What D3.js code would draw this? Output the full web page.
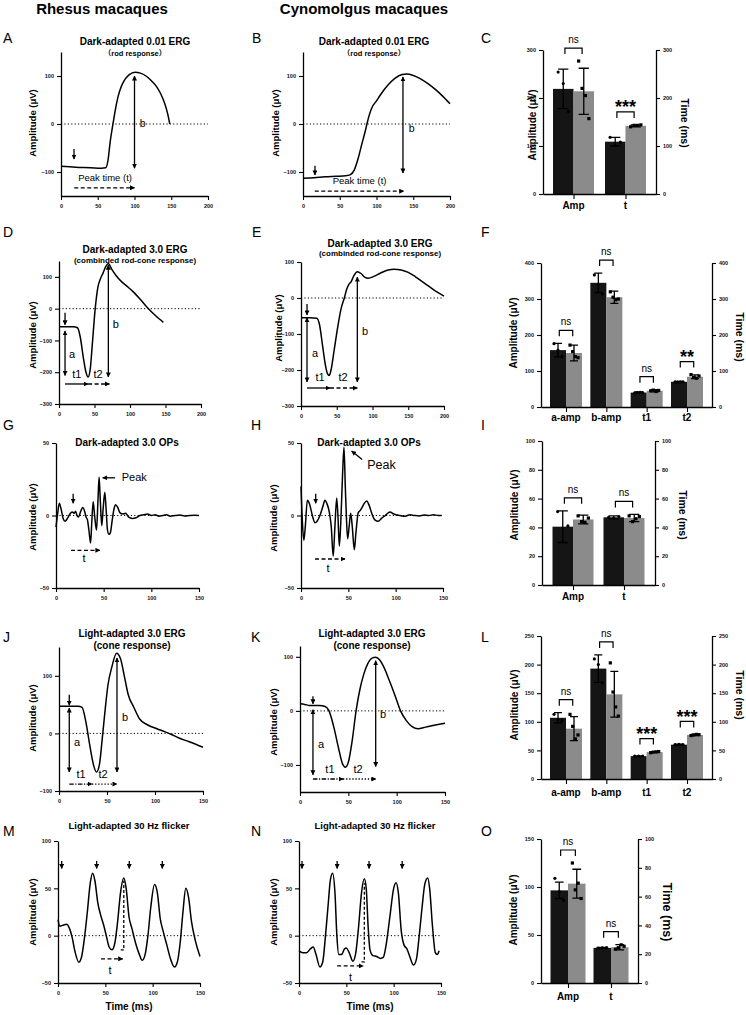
<!DOCTYPE html>
<html>
<head>
<meta charset="utf-8">
<script src="https://cdn.jsdelivr.net/npm/d3@7"></script>
<style>
  body { margin: 0; background: #fff; }
  svg { display: block; }
</style>
</head>
<body>
<svg id="fig" width="746" height="1015"></svg>
<script>
// ---------- data: ERG traces, [time ms, amplitude uV] ----------
const rodRhesus = [[0,-88],[20,-90],[40,-91],[55,-92],[61,-91],[64,-75],[67,-36],[70.7,0],[74,30],[78,59],[82,78],[87,93],[93,103],[100.7,108],[108,106],[116.6,99],[123,90],[130,78],[136,62],[141,43],[145,22],[148,0]];
const rodCyno = [[0,-113],[15,-112],[30,-110],[45,-109],[58,-108],[64,-106],[70,-95],[75,-72],[80,-42],[85,-13],[87,0],[90,18],[95,38],[99,46],[105,60],[115,80],[125,95],[135,103],[141,104],[150,101],[160,94],[170,84],[180,72],[190,58],[200,42]];
const mixedRhesus = [[0,-57],[10,-57],[20,-57],[26,-60],[30,-90],[34,-150],[38,-200],[41,-215],[44,-190],[47,-110],[51,0],[55,70],[58,92],[62,112],[66,133],[69.5,142],[74,125],[80,105],[88,85],[96,70],[105,52],[115,28],[125,2],[135,-20],[147,-43]];
const mixedCyno = [[0,-55],[12,-55],[22,-56],[26,-75],[30,-130],[34,-185],[37,-210],[39.5,-215],[42,-200],[46,-150],[51,-85],[56,-30],[60.6,0],[64,25],[67,38],[70,45],[74,62],[78.8,73],[84,68],[89,58],[94,55],[102,60],[112,70],[122,78],[130,80],[140,78],[150,71],[160,59],[170,45],[180,31],[190,17],[200,5]];
const opsRhesus = [[0,-8],[1.5,0],[3.5,8.5],[5.5,4],[7.5,-2],[9.5,-4],[12,-2],[14.5,1],[17,2.5],[19,1.5],[20.5,3],[22,0],[23.5,-1],[26,3],[28,5.5],[30,3],[31.5,-1],[33,-3],[34.5,-10],[36.3,-19],[37.5,-5],[39,9.5],[40.5,0],[42.5,-10],[44,10],[45.2,26.5],[46.5,10],[48,-7],[49.5,5],[51.2,16],[52.5,5],[54,-10],[55.5,-13],[57,-12],[59,-3],[61,5],[62.5,7.5],[64.5,6],[67,2],[70,1],[73,1.5],[76,-1],[80,-2],[84,-1.5],[88,0],[92,0.5],[96,1],[100,0],[104,0.5],[108,-0.5],[112,0],[116,0.5],[120,-0.5],[125,0],[130,0.3],[135,-0.3],[140,0],[145,0.2],[150,0]];
const opsCyno = [[0,20],[1.5,-5],[3,-17],[4.5,-8],[6.7,10.5],[9,8],[12,0],[14.8,-5],[17,-4],[20,0],[23,6],[25.3,10.5],[27.5,8],[29,5],[30.5,0],[32,-8],[34,-28],[35.8,-8],[37.7,12],[39,0],[40.5,-21],[42,-5],[44,30],[45.4,47],[46.8,20],[48.2,-5],[49.3,-16],[50.8,-8],[52.5,1.6],[54.2,-8],[56.3,-23.6],[58,-12],[60.5,2],[62,3],[64,5],[66.5,8],[69.4,10],[72,7],[75,1],[78,-3],[81.6,-4],[85,-2],[89,0],[94,2.5],[98,1],[104.5,0],[110,-0.5],[115,0.5],[120,0],[125,-0.3],[130,0.3],[135,0],[140,0.5],[145,0],[148.6,0]];
const coneRhesus = [[0,47],[10,47],[20,47],[24,45],[28,20],[32,-20],[36,-55],[39,-67],[42,-55],[45,-10],[48,40],[51,84],[55,115],[60,139],[64,130],[68,100],[72,68],[78,45],[84,25],[92,15],[102,8],[110,3],[116,-1],[125,-8],[135,-14],[150,-24]];
const coneCyno = [[0,13],[5,12],[10,10],[20,10],[26,8],[30,0],[35,-30],[40,-70],[44,-98],[47,-104],[50,-95],[54,-55],[58,0],[62,40],[66,68],[70,87],[75,98],[78,99],[82,95],[87,80],[92,58],[98,30],[104,0],[110,-18],[116,-29],[122,-33],[130,-30],[140,-26],[150,-23]];
const flickerRhesus = [[0,17],[2,10],[5,11],[9,12],[12,8],[15,-2],[18,-17],[22,-28],[25,-22],[28,-2],[31,25],[34,55],[36.5,66],[39,58],[42,35],[45,22],[48,12],[51,0],[54,-12],[57,-15],[60,-8],[63,15],[66,45],[69.5,61],[72,50],[75,20],[78,8],[82,-8],[86,-20],[89,-26],[92,-20],[95,0],[98,30],[102,54],[105,45],[108,18],[111,5],[115,-10],[119,-25],[123,-33],[126,-28],[129,-8],[132,25],[135,50],[138,40],[141,15],[145,-5],[150,-22]];
const flickerCyno = [[0,-16],[4,-18],[8,-18],[12,-14],[15,-12],[18,-20],[22,-33],[25,-28],[28,0],[31,35],[33,58],[35.5,66],[38,45],[40,0],[42,-20],[45,-20],[48,-14],[50,-13],[53,-18],[57,-27],[60,-18],[63,10],[66,45],[69,60],[71,50],[73,10],[75,-15],[78,-21],[82,-22],[86,-24],[89,-23],[92,-10],[96,20],[100,50],[102.5,56],[105,45],[108,5],[111,-10],[114,-14],[117,-22],[121,-31],[124,-25],[127,0],[130,30],[133,55],[136,61],[138,50],[141,10],[144,-18],[146,-20],[148,-16]];

// flash times (ms) marked by arrows in the flicker traces
const flashRhesus = [3.9, 40.8, 75.3, 110.2];
const flashCyno = [3.2, 40.3, 74, 109];

// tick labels
const time200 = [0, 50, 100, 150, 200];
const time150 = [0, 50, 100, 150];

// ---------- data: bar charts (rhesus = black, cynomolgus = gray) ----------
const rodGroups = ["Amp", "t"];
const rodRhesusMean = [219, 109], rodRhesusSd = [41, 9];
const rodCynoMean = [214, 142], rodCynoSd = [48, 2];
const rodRhesusDots = [[254, 230, 172], [118, 101, 108]];
const rodCynoDots = [[277, 220, 205, 157], [140, 143, 143, 144]];
const rodSig = ["ns", "***"];

const mixedGroups = ["a-amp", "b-amp", "t1", "t2"];
const mixedRhesusMean = [158, 345, 40, 70], mixedRhesusSd = [19, 27, 2, 1];
const mixedCynoMean = [150, 305, 45, 84], mixedCynoSd = [22, 17, 3, 5];
const mixedRhesusDots = [[176, 158, 140], [367, 339, 314], [39, 40, 41, 40], [70, 69, 70, 70]];
const mixedCynoDots = [[172, 154, 140, 137], [320, 305, 298, 300], [45, 47, 43, 46], [90, 82, 80, 86]];
const mixedSig = ["ns", "ns", "ns", "**"];

const opsGroups = ["Amp", "t"];
const opsRhesusMean = [40.5, 47], opsRhesusSd = [11, 1];
const opsCynoMean = [45.5, 46.5], opsCynoSd = [3, 2.5];
const opsRhesusDots = [[51, 30, 41], [47, 46.5, 47.5]];
const opsCynoDots = [[48, 44, 43.5, 46.5], [48, 44, 46, 47.5]];
const opsSig = ["ns", "ns"];

const coneGroups = ["a-amp", "b-amp", "t1", "t2"];
const coneRhesusMean = [107, 193, 40, 60], coneRhesusSd = [9, 24, 0.5, 0.8];
const coneCynoMean = [88, 148, 47, 77], coneCynoSd = [21, 40, 1, 1];
const coneRhesusDots = [[113, 104, 102], [210, 200, 168], [40, 40, 40], [60, 60.5, 60]];
const coneCynoDots = [[113, 92, 70, 77], [203, 152, 126, 110], [46, 47, 47.5, 48], [76, 77, 78, 77.5]];
const coneSig = ["ns", "ns", "***", "***"];

const flickerGroups = ["Amp", "t"];
const flickerRhesusMean = [96.5, 24.4], flickerRhesusSd = [8.5, 0.3];
const flickerCynoMean = [103.5, 24.8], flickerCynoSd = [15, 1.8];
const flickerRhesusDots = [[109, 95, 86], [24.3, 24.4, 24.5]];
const flickerCynoDots = [[125, 97, 104, 88], [23.5, 24.5, 26.5, 25.5]];
const flickerSig = ["ns", "ns"];

// ---------- drawing ----------
const FONT = '"Liberation Sans", Arial, Helvetica, "Noto Sans CJK SC", sans-serif';
const BLACK = "#151515";
const GRAY = "#8b8b8b";
const DASH = { solid: null, dash: "4,2.5", dashdot: "4.5,1.5,1.2,1.5", dot: "1.3,1.8", dline: "3,2" };

const svg = d3.select("#fig").style("font-family", FONT);

svg.append("defs").append("marker")
  .attr("id", "head")
  .attr("viewBox", "0 0 10 10")
  .attr("refX", 9).attr("refY", 5)
  .attr("markerWidth", 5).attr("markerHeight", 5)
  .attr("markerUnits", "userSpaceOnUse")
  .attr("orient", "auto-start-reverse")
  .append("path").attr("d", "M0,0L10,5L0,10z").attr("fill", "#000");

function text(g, x, y, str, size, opts) {
  opts = opts || {};
  return g.append("text")
    .attr("x", x).attr("y", y)
    .attr("text-anchor", opts.anchor || "middle")
    .attr("font-size", size)
    .attr("font-weight", opts.bold ? "bold" : "normal")
    .attr("fill", "#000")
    .text(str);
}

function vlabel(x, y, str, size, angle) {
  svg.append("text")
    .attr("transform", `translate(${x},${y}) rotate(${angle})`)
    .attr("text-anchor", "middle")
    .attr("dominant-baseline", "central")
    .attr("font-size", size)
    .attr("font-weight", "bold")
    .text(str);
}

function styleAxis(sel) {
  sel.attr("font-family", FONT);
  sel.select(".domain").attr("stroke", "#000").attr("stroke-width", 1.3);
  sel.selectAll(".tick line").attr("stroke", "#000").attr("stroke-width", 1.1);
  sel.selectAll(".tick text").attr("fill", "#111").attr("font-size", 5.5).attr("font-weight", "bold");
}

function tracePanel(p) {
  const g = svg.append("g");
  const x = d3.scaleLinear().domain(p.xDomain).range([p.frame.x0, p.frame.x1]);
  const y = d3.scaleLinear().domain(p.yDomain).range([p.frame.y1, p.frame.y0]);

  g.append("line")
    .attr("x1", x(p.xDomain[0])).attr("x2", x(p.xDomain[1]))
    .attr("y1", y(0)).attr("y2", y(0))
    .attr("stroke", "#000").attr("stroke-width", 1)
    .attr("stroke-dasharray", "1.2,2.2");

  g.append("path")
    .datum(p.data)
    .attr("fill", "none")
    .attr("stroke", "#000")
    .attr("stroke-width", 1.5)
    .attr("stroke-linejoin", "round")
    .attr("d", d3.line().x(d => x(d[0])).y(d => y(d[1])).curve(d3.curveMonotoneX));

  const ya = g.append("g").attr("transform", `translate(${p.frame.x0},0)`)
    .call(d3.axisLeft(y).tickValues(p.yTicks).tickSize(4).tickSizeOuter(0).tickPadding(3));
  const xa = g.append("g").attr("transform", `translate(0,${p.frame.y1})`)
    .call(d3.axisBottom(x).tickValues(p.xTicks).tickSize(4).tickSizeOuter(0).tickPadding(4));
  styleAxis(ya);
  styleAxis(xa);

  (p.ann || []).forEach(a => {
    if (a.type === "arrow") {
      g.append("line")
        .attr("x1", x(a.from[0])).attr("y1", y(a.from[1]))
        .attr("x2", x(a.to[0])).attr("y2", y(a.to[1]))
        .attr("stroke", "#000").attr("stroke-width", 1.3)
        .attr("stroke-dasharray", DASH[a.style || "solid"])
        .attr("marker-end", "url(#head)")
        .attr("marker-start", a.both ? "url(#head)" : null);
    } else if (a.type === "path") {
      g.append("path")
        .attr("d", d3.line()(a.pts.map(d => [x(d[0]), y(d[1])])))
        .attr("fill", "none").attr("stroke", "#000").attr("stroke-width", 1.3)
        .attr("stroke-dasharray", DASH[a.style || "solid"]);
    } else if (a.type === "text") {
      text(g, x(a.at[0]), y(a.at[1]), a.text, a.size || 11, { anchor: a.anchor });
    }
  });

  text(svg, p.title[1], p.title[2], p.title[0], p.title[3] || 10, { bold: true });
  if (p.sub) text(svg, p.sub[1], p.sub[2], p.sub[0], p.sub[3], { bold: true });
  vlabel(p.ylab[0], p.ylab[1], "Amplitude (\u03bcV)", 9.5, -90);
  if (p.xlab) text(svg, p.xlab[0], p.xlab[1], "Time (ms)", 10, { bold: true });
}

function barPanel(p) {
  const g = svg.append("g");
  const x = d3.scalePoint().domain(p.groups).range([p.x0, p.x1]).padding(p.pad);
  const yl = d3.scaleLinear().domain(p.yDomain).range([p.y1, p.y0]);
  const yr = d3.scaleLinear().domain(p.rDomain).range([p.y1, p.y0]);
  const scaleFor = i => (p.rightIdx.includes(i) ? yr : yl);
  const series = [
    { mean: p.rh.mean, sd: p.rh.sd, dots: p.rh.dots, fill: BLACK, side: -1, shape: "circle" },
    { mean: p.cy.mean, sd: p.cy.sd, dots: p.cy.dots, fill: GRAY, side: 1, shape: "square" }
  ];

  p.groups.forEach((grp, i) => {
    const cx = x(grp);
    const s = scaleFor(i);
    series.forEach(sr => {
      g.append("rect")
        .attr("x", sr.side < 0 ? cx - p.bw : cx)
        .attr("y", s(sr.mean[i]))
        .attr("width", p.bw)
        .attr("height", s(0) - s(sr.mean[i]))
        .attr("fill", sr.fill);
    });
    series.forEach(sr => {
      const mx = cx + sr.side * p.bw / 2;
      const pts = sr.dots[i];
      pts.forEach((v, k) => {
        const off = pts.length > 1 ? (k / (pts.length - 1) - 0.5) * p.bw * 0.5 : 0;
        if (sr.shape === "circle") {
          g.append("circle").attr("cx", mx + off).attr("cy", s(v)).attr("r", 1.6).attr("fill", "#000");
        } else {
          g.append("rect").attr("x", mx + off - 1.6).attr("y", s(v) - 1.6)
            .attr("width", 3.2).attr("height", 3.2).attr("fill", "#000");
        }
      });
      const top = s(sr.mean[i] + sr.sd[i]);
      const bot = s(sr.mean[i] - sr.sd[i]);
      const cap = p.bw * 0.25;
      g.append("path")
        .attr("d", `M${mx},${top}V${bot}M${mx - cap},${top}H${mx + cap}M${mx - cap},${bot}H${mx + cap}`)
        .attr("stroke", "#000").attr("stroke-width", 1.3).attr("fill", "none");
    });

    const hi = d3.max(series, sr => Math.max(sr.mean[i] + sr.sd[i], d3.max(sr.dots[i])));
    const yLeg = s(hi) - 7;
    const yTop = yLeg - 6;
    const bx1 = cx - p.bw * 0.42;
    const bx2 = cx + p.bw * 0.42;
    g.append("path")
      .attr("d", `M${bx1},${yLeg}V${yTop}H${bx2}V${yLeg}`)
      .attr("stroke", "#000").attr("stroke-width", 1.2).attr("fill", "none");
    const sig = p.sig[i];
    if (sig === "ns") {
      text(g, cx, yTop - 5, sig, 10);
    } else {
      text(g, cx, yTop + 1.5, sig, 18, { bold: true });
    }
    text(g, cx, p.xLabelY, grp, 10, { bold: true });
  });

  const la = g.append("g").attr("transform", `translate(${p.x0},0)`)
    .call(d3.axisLeft(yl).tickValues(p.yTicks).tickSize(4).tickSizeOuter(0).tickPadding(3));
  const ra = g.append("g").attr("transform", `translate(${p.x1},0)`)
    .call(d3.axisRight(yr).tickValues(p.rTicks).tickSize(4).tickSizeOuter(0).tickPadding(3));
  const ba = g.append("g").attr("transform", `translate(0,${p.y1})`)
    .call(d3.axisBottom(x).tickSize(5).tickSizeOuter(0).tickFormat(""));
  [la, ra, ba].forEach(styleAxis);
  ba.select(".domain").attr("stroke-width", 1.5);

  vlabel(p.leftLabel[0], p.leftLabel[1], "Amplitude (\u03bcV)", 10, -90);
  vlabel(p.rightLabel[0], p.rightLabel[1], "Time (ms)", p.rightLabel[2], 90);
}

// ---------- headers and panel letters ----------
text(svg, 102, 14, "Rhesus macaques", 15, { bold: true });
text(svg, 364, 14, "Cynomolgus macaques", 15, { bold: true });
[["A",3,43],["B",252,43],["C",481,43],["D",3,237],["E",252,237],["F",481,237],
 ["G",3,430],["H",251,430],["I",481,430],["J",3,642],["K",251,642],["L",481,642],
 ["M",3,836],["N",251,836],["O",481,836]].forEach(d => text(svg, d[1], d[2], d[0], 14, { anchor: "start" }));

// ---------- trace panels ----------
const flickArrows = ts => ts.map(t => ({ type: "arrow", from: [t, 79], to: [t, 71] }));

tracePanel({
  data: rodRhesus, frame: { x0: 61, x1: 208, y0: 52, y1: 196 },
  xDomain: [0, 200], yDomain: [-150, 150], xTicks: time200, yTicks: [-100, 0, 100],
  title: ["Dark-adapted 0.01 ERG", 135, 45], sub: ["\uff08rod response\uff09", 135, 56, 7.5], ylab: [32, 123],
  ann: [
    { type: "arrow", from: [17.7, -52], to: [17.7, -73] },
    { type: "arrow", from: [100, 100], to: [100, -92], both: true },
    { type: "text", at: [111, -6], text: "b", size: 10.5 },
    { type: "text", at: [60, -119], text: "Peak time (t)", size: 9.5 },
    { type: "arrow", from: [18, -133], to: [100, -133], style: "dash" }
  ]
});
tracePanel({
  data: rodCyno, frame: { x0: 303, x1: 450, y0: 52, y1: 196 },
  xDomain: [0, 200], yDomain: [-150, 150], xTicks: time200, yTicks: [-100, 0, 100],
  title: ["Dark-adapted 0.01 ERG", 374, 45], sub: ["\uff08rod response\uff09", 374, 56, 7.5], ylab: [275, 123],
  ann: [
    { type: "arrow", from: [16.3, -87], to: [16.3, -106] },
    { type: "arrow", from: [136, 98], to: [136, -102], both: true },
    { type: "text", at: [148, -16], text: "b", size: 10.5 },
    { type: "text", at: [77, -125], text: "Peak time (t)", size: 9.5 },
    { type: "arrow", from: [16, -140], to: [137, -140], style: "dash" }
  ]
});
tracePanel({
  data: mixedRhesus, frame: { x0: 59, x1: 201, y0: 261, y1: 404 },
  xDomain: [0, 200], yDomain: [-300, 150], xTicks: time200, yTicks: [-300, -200, -100, 0, 100],
  title: ["Dark-adapted 3.0 ERG", 135, 253], sub: ["(combinded rod-cone response)", 135, 263, 8], ylab: [32, 335],
  ann: [
    { type: "arrow", from: [8.5, -13], to: [8.5, -51] },
    { type: "arrow", from: [8.5, -70], to: [8.5, -210], both: true },
    { type: "text", at: [18.3, -155], text: "a" },
    { type: "arrow", from: [69.5, 137], to: [69.5, -215], both: true },
    { type: "text", at: [80, -62], text: "b" },
    { type: "text", at: [25, -218], text: "t1" },
    { type: "text", at: [55, -218], text: "t2" },
    { type: "arrow", from: [8.5, -237], to: [41, -237] },
    { type: "arrow", from: [41, -237], to: [71, -237], style: "dash" }
  ]
});
tracePanel({
  data: mixedCyno, frame: { x0: 301, x1: 444, y0: 262, y1: 406 },
  xDomain: [0, 200], yDomain: [-300, 100], xTicks: time200, yTicks: [-300, -200, -100, 0, 100],
  title: ["Dark-adapted 3.0 ERG", 380, 247], sub: ["(combinded rod-cone response)", 380, 256, 8], ylab: [278, 328],
  ann: [
    { type: "arrow", from: [8.4, -17], to: [8.4, -47] },
    { type: "arrow", from: [8.4, -55], to: [8.4, -233], both: true },
    { type: "text", at: [19.6, -164], text: "a" },
    { type: "arrow", from: [78.8, 58], to: [78.8, -233], both: true },
    { type: "text", at: [89.5, -103], text: "b" },
    { type: "text", at: [26.6, -230], text: "t1" },
    { type: "text", at: [58.7, -230], text: "t2" },
    { type: "arrow", from: [8.4, -250], to: [40.6, -250] },
    { type: "arrow", from: [40.6, -250], to: [78.8, -250], style: "dash" }
  ]
});
tracePanel({
  data: opsRhesus, frame: { x0: 56, x1: 199, y0: 443, y1: 588 },
  xDomain: [0, 150], yDomain: [-50, 50], xTicks: time150, yTicks: [-50, 0, 50],
  title: ["Dark-adapted 3.0 OPs", 127, 446], ylab: [32, 517],
  ann: [
    { type: "arrow", from: [18, 15], to: [18, 8.5] },
    { type: "text", at: [69, 24], text: "Peak", size: 11, anchor: "start" },
    { type: "arrow", from: [62, 26], to: [49, 26] },
    { type: "arrow", from: [15.7, -24], to: [46, -24], style: "dash" },
    { type: "text", at: [29.4, -32], text: "t" }
  ]
});
tracePanel({
  data: opsCyno, frame: { x0: 301, x1: 443, y0: 443, y1: 588 },
  xDomain: [0, 150], yDomain: [-50, 50], xTicks: time150, yTicks: [-50, 0, 50],
  title: ["Dark-adapted 3.0 OPs", 369, 446], ylab: [273, 518],
  ann: [
    { type: "arrow", from: [15.5, 15], to: [15.5, 8.5] },
    { type: "text", at: [70, 32], text: "Peak", size: 12.5, anchor: "start" },
    { type: "arrow", from: [64.6, 38.6], to: [53.5, 44.5] },
    { type: "arrow", from: [14.8, -30], to: [46.5, -30], style: "dash" },
    { type: "text", at: [28.5, -39], text: "t" }
  ]
});
tracePanel({
  data: coneRhesus, frame: { x0: 59, x1: 203, y0: 647, y1: 791 },
  xDomain: [0, 150], yDomain: [-100, 150], xTicks: time150, yTicks: [-100, 0, 100],
  title: ["Light-adapted 3.0 ERG", 132, 637], sub: ["(cone response)", 132, 649, 10], ylab: [32, 718],
  ann: [
    { type: "arrow", from: [10.7, 67], to: [10.7, 49] },
    { type: "arrow", from: [10.7, 44], to: [10.7, -67], both: true },
    { type: "text", at: [18.8, -22], text: "a" },
    { type: "arrow", from: [60.4, 131], to: [60.4, -67], both: true },
    { type: "text", at: [68.8, 21.5], text: "b" },
    { type: "text", at: [23, -77], text: "t1" },
    { type: "text", at: [46, -77], text: "t2" },
    { type: "arrow", from: [10.7, -88], to: [34.4, -88], style: "dashdot" },
    { type: "arrow", from: [34.4, -88], to: [60.4, -88], style: "dot" }
  ]
});
tracePanel({
  data: coneCyno, frame: { x0: 300, x1: 445, y0: 646, y1: 792 },
  xDomain: [0, 150], yDomain: [-150, 120], xTicks: time150, yTicks: [-100, 0, 100],
  title: ["Light-adapted 3.0 ERG", 372, 637], sub: ["(cone response)", 372, 649, 10], ylab: [273, 722],
  ann: [
    { type: "arrow", from: [13.4, 27], to: [13.4, 13] },
    { type: "arrow", from: [13.4, 2], to: [13.4, -118], both: true },
    { type: "text", at: [21.7, -68], text: "a" },
    { type: "arrow", from: [78.3, 92.5], to: [78.3, -103], both: true },
    { type: "text", at: [86, -13], text: "b" },
    { type: "text", at: [31, -114], text: "t1" },
    { type: "text", at: [60, -114], text: "t2" },
    { type: "arrow", from: [13.4, -126], to: [44.5, -126], style: "dashdot" },
    { type: "arrow", from: [44.5, -126], to: [78.5, -126], style: "dot" }
  ]
});
tracePanel({
  data: flickerRhesus, frame: { x0: 58, x1: 200, y0: 841, y1: 983 },
  xDomain: [0, 150], yDomain: [-50, 100], xTicks: time150, yTicks: [-50, 0, 50, 100],
  title: ["Light-adapted 30 Hz flicker", 129, 829, 9.5], ylab: [32, 912], xlab: [129, 1010],
  ann: flickArrows(flashRhesus).concat([
    { type: "path", pts: [[66.3, -15], [69.5, -15], [69.5, 58]], style: "dline" },
    { type: "arrow", from: [45.4, -24.5], to: [68.3, -24.5], style: "dash" },
    { type: "text", at: [55, -41], text: "t" }
  ])
});
tracePanel({
  data: flickerCyno, frame: { x0: 299, x1: 441, y0: 841, y1: 983 },
  xDomain: [0, 150], yDomain: [-50, 100], xTicks: time150, yTicks: [-50, 0, 50, 100],
  title: ["Light-adapted 30 Hz flicker", 375, 829, 9.5], ylab: [273, 912], xlab: [370, 1010],
  ann: flickArrows(flashCyno).concat([
    { type: "path", pts: [[66, -27.7], [69, -27.7], [69, 55.5]], style: "dline" },
    { type: "arrow", from: [40.3, -32], to: [67.9, -32], style: "dash" },
    { type: "text", at: [54.5, -48], text: "t" }
  ])
});

// ---------- bar panels ----------
barPanel({
  groups: rodGroups, sig: rodSig,
  rh: { mean: rodRhesusMean, sd: rodRhesusSd, dots: rodRhesusDots },
  cy: { mean: rodCynoMean, sd: rodCynoSd, dots: rodCynoDots },
  x0: 543, x1: 656, y0: 50, y1: 194, pad: 0.587, bw: 20.5,
  yDomain: [0, 300], rDomain: [0, 300], yTicks: [0, 100, 200, 300], rTicks: [0, 100, 200, 300], rightIdx: [],
  leftLabel: [532, 125], rightLabel: [685, 123, 10.5], xLabelY: 209
});
barPanel({
  groups: mixedGroups, sig: mixedSig,
  rh: { mean: mixedRhesusMean, sd: mixedRhesusSd, dots: mixedRhesusDots },
  cy: { mean: mixedCynoMean, sd: mixedCynoSd, dots: mixedCynoDots },
  x0: 541, x1: 712, y0: 263, y1: 407, pad: 0.62, bw: 16,
  yDomain: [0, 400], rDomain: [0, 400], yTicks: [0, 100, 200, 300, 400], rTicks: [0, 100, 200, 300, 400], rightIdx: [],
  leftLabel: [513, 333], rightLabel: [740, 337, 10.5], xLabelY: 421
});
barPanel({
  groups: opsGroups, sig: opsSig,
  rh: { mean: opsRhesusMean, sd: opsRhesusSd, dots: opsRhesusDots },
  cy: { mean: opsCynoMean, sd: opsCynoSd, dots: opsCynoDots },
  x0: 542, x1: 655, y0: 441, y1: 585, pad: 0.608, bw: 20.5,
  yDomain: [0, 100], rDomain: [0, 100], yTicks: [0, 20, 40, 60, 80, 100], rTicks: [0, 20, 40, 60, 80, 100], rightIdx: [],
  leftLabel: [514, 505], rightLabel: [683, 515, 10.5], xLabelY: 600
});
barPanel({
  groups: coneGroups, sig: coneSig,
  rh: { mean: coneRhesusMean, sd: coneRhesusSd, dots: coneRhesusDots },
  cy: { mean: coneCynoMean, sd: coneCynoSd, dots: coneCynoDots },
  x0: 541, x1: 712, y0: 636, y1: 779, pad: 0.62, bw: 16,
  yDomain: [0, 250], rDomain: [0, 250], yTicks: [0, 50, 100, 150, 200, 250], rTicks: [0, 50, 100, 150, 200, 250], rightIdx: [],
  leftLabel: [514, 705], rightLabel: [740, 695, 10.5], xLabelY: 796
});
barPanel({
  groups: flickerGroups, sig: flickerSig,
  rh: { mean: flickerRhesusMean, sd: flickerRhesusSd, dots: flickerRhesusDots },
  cy: { mean: flickerCynoMean, sd: flickerCynoSd, dots: flickerCynoDots },
  x0: 541, x1: 638, y0: 839, y1: 983, pad: 0.628, bw: 17.5,
  yDomain: [0, 150], rDomain: [0, 100], yTicks: [0, 50, 100, 150], rTicks: [0, 20, 40, 60, 80, 100], rightIdx: [1],
  leftLabel: [513, 910], rightLabel: [667, 912, 12.5], xLabelY: 1000
});
</script>
</body>
</html>
